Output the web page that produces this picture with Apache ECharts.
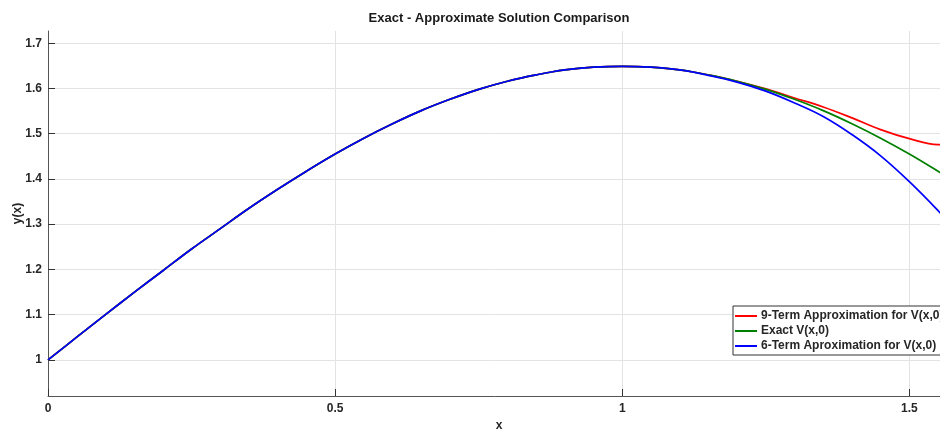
<!DOCTYPE html>
<html>
<head>
<meta charset="utf-8">
<title>Exact - Approximate Solution Comparison</title>
<script src="https://cdn.jsdelivr.net/npm/echarts@6/dist/echarts.min.js"></script>
<style>
  html, body { margin: 0; padding: 0; background: #fff; }
  #chart { width: 940px; height: 430px; }
</style>
</head>
<body>
<div id="chart"></div>
<script>
// x positions of the read-off samples
const xs = [0, 0.05, 0.1, 0.15, 0.2, 0.25, 0.3, 0.35, 0.4, 0.45, 0.5, 0.55, 0.6, 0.65, 0.7, 0.75,
  0.8, 0.85, 0.9, 0.95, 1, 1.05, 1.1, 1.15, 1.2, 1.25, 1.3, 1.35, 1.4, 1.45, 1.5, 1.55, 1.5708]

// exact V(x,0)
const exact = [1, 1.050, 1.100, 1.149, 1.197, 1.245, 1.290, 1.335, 1.377, 1.417, 1.455, 1.490, 1.522, 1.551, 1.576, 1.598,
  1.616, 1.630, 1.641, 1.647, 1.649, 1.647, 1.641, 1.630, 1.616, 1.598, 1.576, 1.551, 1.522, 1.490, 1.455, 1.417, 1.401]

// 9-term approximation
const nineTerm = [1, 1.050, 1.100, 1.149, 1.197, 1.245, 1.290, 1.335, 1.377, 1.417, 1.455, 1.490, 1.522, 1.551, 1.576, 1.598,
  1.616, 1.630, 1.641, 1.647, 1.649, 1.647, 1.641, 1.630, 1.616, 1.599, 1.579, 1.559, 1.535, 1.509, 1.489, 1.476, 1.476]

// 6-term approximation
const sixTerm = [1, 1.050, 1.100, 1.149, 1.197, 1.245, 1.290, 1.335, 1.377, 1.417, 1.455, 1.490, 1.522, 1.551, 1.576, 1.598,
  1.616, 1.630, 1.641, 1.647, 1.649, 1.647, 1.641, 1.629, 1.614, 1.594, 1.568, 1.538, 1.498, 1.451, 1.394, 1.330, 1.300]

const seriesNames = ['9-Term Approximation for V(x,0)', 'Exact V(x,0)', '6-Term Aproximation for V(x,0)']
const seriesColors = ['#ff0000', '#008000', '#0000ff']

const toPairs = ys => xs.map((x, i) => [x, ys[i]])

let chart = echarts.init(document.getElementById('chart'), null, { renderer: 'canvas' })

const labelFont = {
  fontFamily: 'Liberation Sans, Arial, sans-serif',
  fontWeight: 'bold',
  fontSize: 12,
  color: '#262626'
}

chart.setOption({
  backgroundColor: '#fff',
  animation: false,
  title: {
    text: 'Exact - Approximate Solution Comparison',
    left: 499,
    top: 12,
    padding: 0,
    textAlign: 'center',
    textStyle: {
      fontFamily: 'Liberation Sans, Arial, sans-serif',
      fontWeight: 'bold',
      fontSize: 13,
      color: '#1a1a1a'
    }
  },
  legend: {
    orient: 'vertical',
    left: 733,
    top: 306,
    padding: [4, 6, 3, 2],
    itemGap: 3,
    itemWidth: 22,
    itemHeight: 2,
    icon: 'rect',
    backgroundColor: '#fff',
    borderColor: '#333',
    borderWidth: 1,
    textStyle: Object.assign({}, labelFont, { padding: [0, 0, 0, -1] }),
    data: seriesNames
  },
  grid: {
    left: 48,
    top: 31,
    right: -10,
    bottom: 34,
    outerBoundsMode: 'none',
    containLabel: false
  },
  xAxis: {
    type: 'value',
    min: 0,
    max: 1.5708,
    interval: 0.5,
    name: 'x',
    nameLocation: 'middle',
    nameGap: 24,
    nameMoveOverlap: false,
    nameTextStyle: labelFont,
    axisLine: { show: true, lineStyle: { color: '#555', width: 1 } },
    axisTick: { show: true, inside: true, length: 7, lineStyle: { color: '#333' } },
    axisLabel: Object.assign({ margin: 7, showMaxLabel: false }, labelFont),
    splitLine: { show: true, showMaxLine: false, lineStyle: { color: '#e3e3e3', width: 1 } }
  },
  yAxis: {
    type: 'value',
    min: 0.92,
    max: 1.727,
    minInterval: 0.1,
    maxInterval: 0.1,
    name: 'y(x)',
    nameLocation: 'middle',
    nameGap: 24,
    nameMoveOverlap: false,
    nameTextStyle: labelFont,
    axisLine: { show: true, lineStyle: { color: '#555', width: 1 } },
    axisTick: { show: true, inside: true, length: 7, lineStyle: { color: '#333' } },
    axisLabel: Object.assign({
      margin: 6,
      showMinLabel: false,
      showMaxLabel: false
    }, labelFont),
    splitLine: { show: true, showMinLine: false, showMaxLine: false, lineStyle: { color: '#e3e3e3', width: 1 } }
  },
  series: [nineTerm, exact, sixTerm].map((ys, i) => ({
    name: seriesNames[i],
    type: 'line',
    data: toPairs(ys),
    smooth: 0.4,
    showSymbol: false,
    symbol: 'none',
    lineStyle: { color: seriesColors[i], width: 1.7 },
    itemStyle: { color: seriesColors[i] }
  }))
})
</script>
</body>
</html>
